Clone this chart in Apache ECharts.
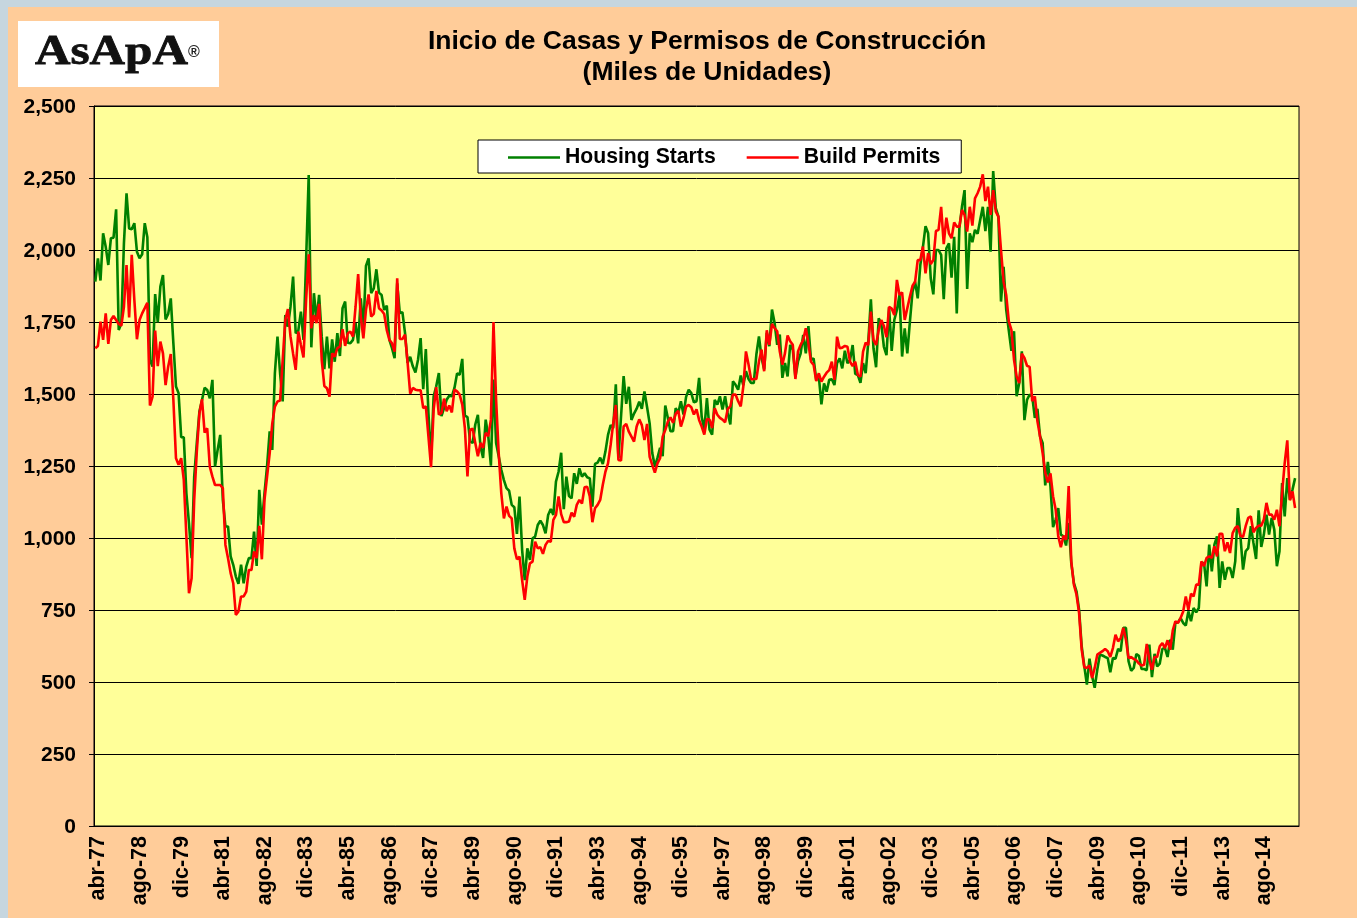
<!DOCTYPE html>
<html>
<head>
<meta charset="utf-8">
<title>Inicio de Casas y Permisos de Construcción</title>
<script src="https://cdn.jsdelivr.net/npm/echarts@6/dist/echarts.min.js"></script>
<style>
  html, body { margin: 0; padding: 0; background: #c6d6df; }
  #main { width: 1357px; height: 918px; }
</style>
</head>
<body>
<div id="main"></div>
<script>
// monthly values, abr-77 onwards (miles de unidades)
const housingStarts = [
  1890,1971,1894,2058,2011,1948,2041,2043,2141,1722,
  1745,2023,2197,2075,2072,2093,1994,1971,1985,2093,
  2044,1618,1595,1847,1749,1873,1913,1759,1778,1832,
  1676,1526,1503,1350,1350,1155,1051,930,1213,1330,
  1439,1479,1522,1514,1485,1549,1248,1306,1358,1132,
  1040,1040,936,907,866,841,907,843,901,930,
  930,1022,903,1167,1046,1155,1250,1370,1306,1572,
  1699,1572,1474,1774,1734,1803,1908,1711,1720,1786,
  1688,1965,2260,1662,1850,1757,1844,1699,1586,1699,
  1589,1690,1612,1711,1632,1798,1821,1678,1676,1688,
  1746,1676,1832,1722,1945,1971,1850,1867,1933,1852,
  1844,1792,1807,1688,1659,1624,1884,1781,1784,1712,
  1608,1629,1596,1575,1619,1694,1517,1656,1434,1272,
  1492,1527,1573,1423,1451,1480,1494,1492,1521,1571,
  1567,1622,1425,1420,1336,1330,1394,1428,1318,1278,
  1411,1353,1251,1550,1330,1284,1237,1201,1173,1164,
  1115,1107,1014,1144,959,854,964,924,999,1005,
  1045,1060,1045,1016,1080,1101,1080,1196,1230,1296,
  1100,1213,1146,1138,1225,1188,1242,1213,1225,1211,
  1207,1109,1257,1262,1279,1257,1300,1358,1392,1381,
  1534,1277,1421,1562,1466,1525,1410,1432,1449,1473,
  1449,1509,1455,1398,1295,1249,1278,1313,1284,1460,
  1417,1371,1371,1451,1434,1475,1429,1490,1515,1503,
  1471,1475,1556,1420,1376,1486,1376,1359,1480,1463,
  1492,1446,1492,1434,1394,1544,1532,1515,1564,1530,
  1579,1552,1538,1538,1637,1700,1625,1585,1712,1666,
  1793,1747,1671,1706,1556,1608,1561,1671,1654,1559,
  1613,1640,1705,1641,1736,1618,1624,1549,1560,1464,
  1537,1508,1549,1551,1531,1607,1624,1589,1650,1607,
  1618,1670,1570,1566,1539,1607,1572,1680,1829,1659,
  1593,1763,1745,1664,1635,1801,1650,1757,1792,1844,
  1630,1728,1641,1751,1855,1890,1832,1948,2010,2083,
  2058,1902,1846,2000,2000,1983,1829,2006,2023,1904,
  2046,1780,2075,2150,2208,1865,2058,2027,2070,2056,
  2104,2150,2066,2150,1994,2274,2145,2116,1821,1942,
  1793,1720,1650,1718,1492,1538,1648,1409,1480,1498,
  1492,1417,1448,1353,1330,1183,1264,1180,1038,1064,
  1104,1012,1006,974,1052,913,844,815,751,624,
  555,491,581,520,480,543,595,592,587,583,
  534,583,581,615,607,688,688,572,539,549,
  597,591,545,545,541,630,517,598,554,564,
  615,618,587,647,612,705,707,722,705,696,
  745,711,757,742,757,913,913,832,977,884,
  977,1006,827,919,855,896,896,861,919,1104,
  1006,890,954,965,1041,983,927,1096,969,1012,
  1081,1012,1070,1029,902,954,1191,1075,1208,1133,
  1168,1208
]
const buildPermits = [
  1659,1667,1751,1688,1780,1674,1757,1771,1757,1743,
  1737,1803,1948,1766,1983,1827,1690,1757,1780,1798,
  1817,1460,1491,1720,1597,1682,1641,1531,1595,1639,
  1479,1277,1254,1277,1202,1005,808,860,1132,1300,
  1433,1482,1366,1381,1248,1213,1184,1184,1184,1173,
  976,930,878,843,733,745,797,797,814,889,
  889,953,930,1042,926,1132,1213,1294,1398,1456,
  1474,1477,1618,1757,1795,1700,1640,1584,1717,1670,
  1627,1827,1985,1728,1774,1746,1813,1618,1528,1520,
  1491,1641,1630,1659,1665,1725,1667,1711,1717,1699,
  1803,1916,1769,1693,1792,1846,1769,1778,1858,1798,
  1790,1778,1722,1688,1676,1647,1902,1691,1691,1706,
  1608,1501,1521,1515,1513,1513,1451,1457,1353,1246,
  1446,1524,1428,1434,1484,1440,1460,1436,1515,1509,
  1498,1463,1382,1214,1376,1379,1330,1284,1330,1313,
  1365,1353,1411,1750,1480,1294,1155,1068,1109,1077,
  1068,964,926,935,854,785,866,912,918,987,
  964,968,945,976,990,987,1063,1080,1144,1083,
  1055,1055,1057,1088,1074,1115,1132,1120,1176,1178,
  1144,1055,1103,1115,1132,1185,1230,1259,1323,1398,
  1462,1271,1269,1387,1396,1369,1352,1335,1387,1412,
  1392,1340,1396,1282,1254,1227,1259,1277,1352,1375,
  1404,1419,1400,1431,1442,1387,1416,1456,1462,1454,
  1429,1447,1410,1387,1359,1413,1411,1382,1451,1428,
  1417,1411,1402,1448,1457,1498,1498,1475,1457,1527,
  1648,1602,1550,1552,1552,1613,1654,1579,1721,1671,
  1743,1729,1718,1648,1602,1642,1703,1683,1671,1552,
  1648,1670,1688,1728,1676,1612,1601,1545,1572,1543,
  1560,1574,1583,1612,1549,1699,1659,1661,1667,1664,
  1612,1597,1612,1566,1560,1647,1678,1670,1786,1688,
  1670,1722,1757,1736,1697,1803,1797,1774,1896,1844,
  1853,1757,1798,1838,1876,1890,1965,1965,2012,1919,
  1989,1951,1965,2066,2070,2150,2020,2112,2058,2041,
  2096,2081,2081,2139,2122,2064,2150,2085,2179,2197,
  2220,2263,2170,2220,2122,2208,2133,2116,2000,1890,
  1844,1752,1723,1619,1561,1538,1640,1625,1598,1594,
  1475,1492,1405,1353,1295,1226,1193,1224,1145,1099,
  1006,968,1008,994,1180,919,838,804,740,613,
  551,549,557,514,549,595,601,607,615,607,
  587,618,664,641,653,688,647,583,587,580,
  575,564,557,560,632,578,543,587,587,624,
  635,618,645,612,679,711,705,722,745,797,
  751,807,797,838,838,919,902,931,936,931,
  971,936,1015,1015,954,985,948,1017,1035,1041,
  1008,1004,1041,1070,1075,1020,1035,1043,1043,1064,
  1122,1081,1081,1064,1098,1041,1156,1260,1339,1131,
  1162,1104
]
const monthNames = ['ene','feb','mar','abr','may','jun','jul','ago','sep','oct','nov','dic']

// one extra empty month at the end of the axis, like the original
let categories = []
for (let i = 0; i < 463; i++) {
  let m = 3 + i
  let year = 77 + Math.floor(m / 12)
  categories.push(monthNames[m % 12] + '-' + String(year % 100).padStart(2, '0'))
}

const font = '"Liberation Sans", Arial, sans-serif'
const chart = echarts.init(document.getElementById('main'), null, { renderer: 'canvas' })

chart.setOption({
  animation: false,
  textStyle: { fontFamily: font },
  title: {
    text: 'Inicio de Casas y Permisos de Construcción\n(Miles de Unidades)',
    left: 702,
    top: 21,
    textAlign: 'center',
    textStyle: { fontFamily: font, fontSize: 26.5, fontWeight: 'bold', lineHeight: 31, color: '#000' }
  },
  legend: {
    left: 478,
    top: 140,
    padding: [7, 21, 5, 30],
    icon: 'rect',
    itemWidth: 52,
    itemHeight: 2.5,
    itemGap: 31,
    backgroundColor: '#fff',
    borderColor: '#000',
    borderWidth: 1,
    textStyle: { fontFamily: font, fontSize: 21.2, fontWeight: 'bold', color: '#000' }
  },
  graphic: [
    { type: 'rect', z: -10, shape: { x: 8, y: 7, width: 1349, height: 911 },
      style: { fill: '#FFCC99' } },
    { type: 'rect', z: -9, shape: { x: 18, y: 21, width: 201, height: 66 },
      style: { fill: '#fff' } },
    { type: 'text', z: 5, x: 35, y: 32, scaleX: 1.17,
      style: { text: 'AsApA', fontFamily: '"Liberation Serif", serif', fontSize: 42, fontWeight: 'bold',
        fill: '#111', stroke: '#111', lineWidth: 0.8 } },
    { type: 'text', z: 5, x: 188, y: 45,
      style: { text: '®', fontFamily: font, fontSize: 16, fontWeight: 'bold', fill: '#222' } }
  ],
  grid: {
    show: true,
    left: 94,
    top: 106,
    width: 1205,
    height: 720,
    backgroundColor: '#FFFF99',
    borderColor: '#000',
    borderWidth: 1
  },
  xAxis: {
    type: 'category',
    data: categories,
    boundaryGap: true,
    axisLine: { lineStyle: { color: '#000', width: 1 } },
    axisTick: { interval: 15, length: 5, lineStyle: { color: '#000' } },
    axisLabel: {
      interval: 15,
      rotate: 90,
      margin: 10,
      formatter: function (v) { return '{a|' + v + '}' },
      rich: {
        a: { padding: [6, 0, 0, 0], fontFamily: font, fontSize: 21.5, fontWeight: 'bold', color: '#000' }
      }
    },
    splitLine: { show: false }
  },
  yAxis: {
    type: 'value',
    min: 0,
    max: 2500,
    interval: 250,
    axisLine: { show: true, lineStyle: { color: '#000', width: 1 } },
    axisTick: { show: true, length: 5, lineStyle: { color: '#000' } },
    axisLabel: {
      margin: 18,
      formatter: function (v) { return '{a|' + v.toLocaleString('en-US') + '}' },
      rich: {
        a: { padding: [2, 0, 0, 0], fontFamily: font, fontSize: 21, fontWeight: 'bold', color: '#000' }
      }
    },
    splitLine: { show: true, lineStyle: { color: '#000', width: 1 } }
  },
  series: [
    {
      name: 'Housing Starts',
      type: 'line',
      data: housingStarts,
      symbol: 'none',
      lineStyle: { color: '#008000', width: 2.6 },
      itemStyle: { color: '#008000' }
    },
    {
      name: 'Build Permits',
      type: 'line',
      data: buildPermits,
      symbol: 'none',
      lineStyle: { color: '#FF0000', width: 2.6 },
      itemStyle: { color: '#FF0000' }
    }
  ]
})
</script>
</body>
</html>
